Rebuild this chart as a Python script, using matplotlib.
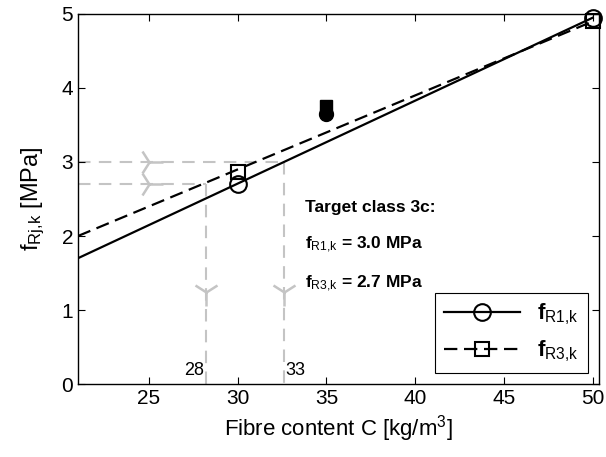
import numpy as np
import matplotlib
matplotlib.use("Agg")
import matplotlib.pyplot as plt
from matplotlib.lines import Line2D

plt.rcParams['font.family'] = ['Liberation Sans', 'DejaVu Sans']
plt.rcParams['mathtext.fontset'] = 'custom'
plt.rcParams['mathtext.rm'] = 'Liberation Sans'
plt.rcParams['mathtext.it'] = 'Liberation Sans'
plt.rcParams['mathtext.bf'] = 'Liberation Sans:bold'

# measured points
c_pts = [30, 50]
fr1_pts = [2.70, 4.95]
fr3_pts = [2.87, 4.90]
# extra (filled) points at 35 kg/m3
c_extra = [35]
fr1_extra = [3.65]
fr3_extra = [3.75]
# fitted lines
line_c = [21, 50]
fr1_line = [1.70, 4.95]
fr3_line = [2.00, 4.90]
# target values and required fibre contents
targets = [2.7, 3.0]
c_req = [28.2, 32.6]
c_req_labels = ["28", "33"]

fig = plt.figure(figsize=(6.06, 4.57), dpi=100)
ax = fig.add_axes([0.1287, 0.1597, 0.8597, 0.8097])

grey = '#c4c4c4'
for t, c in zip(targets, c_req):
    ax.plot([21, c], [t, t], color=grey, lw=1.5, dashes=(6, 4), zorder=1)
    ax.plot([c, c], [t, 0], color=grey, lw=1.5, dashes=(6, 4), zorder=1)
    ax.plot([25.0], [t], marker='4', color=grey, ms=20, mew=1.8, zorder=1)
    ax.plot([c], [1.25], marker='1', color=grey, ms=20, mew=1.8, zorder=1)

ax.text(c_req[0] - 0.1, 0.07, c_req_labels[0], ha='right', va='bottom', fontsize=13)
ax.text(c_req[1] + 0.1, 0.07, c_req_labels[1], ha='left', va='bottom', fontsize=13)

ax.plot(line_c, fr1_line, color='black', lw=1.6, zorder=3)
ax.plot(line_c, fr3_line, color='black', lw=1.6, dashes=(6, 3), zorder=3)
ax.plot(c_pts, fr1_pts, 'o', ms=12, mfc='none', mec='black', mew=1.5, zorder=4, clip_on=False)
ax.plot(c_pts, fr3_pts, 's', ms=10, mfc='none', mec='black', mew=1.5, zorder=4, clip_on=False)
ax.plot(c_extra, fr3_extra, 's', ms=9, color='black', zorder=4)
ax.plot(c_extra, fr1_extra, 'o', ms=10, color='black', zorder=5)

ax.text(33.8, 2.39, "Target class 3c:", fontsize=12.5, fontweight='bold', va='center')
ax.text(33.8, 1.88, r"$\mathbf{f}_{\mathrm{R1{,}k}}$ = 3.0 MPa", fontsize=12.5,
        fontweight='bold', va='center')
ax.text(33.8, 1.36, r"$\mathbf{f}_{\mathrm{R3{,}k}}$ = 2.7 MPa", fontsize=12.5,
        fontweight='bold', va='center')

handles = [
    Line2D([], [], color='black', lw=1.6, marker='o', ms=12, mfc='none', mew=1.5),
    Line2D([], [], color='black', lw=1.6, dashes=(6, 3), marker='s', ms=10, mfc='none', mew=1.5),
]
leg = ax.legend(handles, [r"$\mathbf{f}_{\mathrm{R1{,}k}}$", r"$\mathbf{f}_{\mathrm{R3{,}k}}$"],
                loc='lower right', fontsize=16, fancybox=False, edgecolor='black',
                framealpha=1, handlelength=3.4, borderaxespad=0.5, labelspacing=0.5)
leg.get_frame().set_linewidth(0.8)

ax.set_xlim(21, 50.35)
ax.set_ylim(0, 5)
ax.set_xticks([25, 30, 35, 40, 45, 50])
ax.set_yticks([0, 1, 2, 3, 4, 5])
ax.tick_params(direction='in', top=True, right=True, labelsize=15, length=5)
for s in ax.spines.values():
    s.set_linewidth(1.0)
ax.set_xlabel(r"Fibre content C [kg/m$^3$]", fontsize=16)
ax.set_ylabel(r"f$_{\mathrm{Rj{,}k}}$ [MPa]", fontsize=17, labelpad=10)

fig.savefig("out.png", dpi=100)
